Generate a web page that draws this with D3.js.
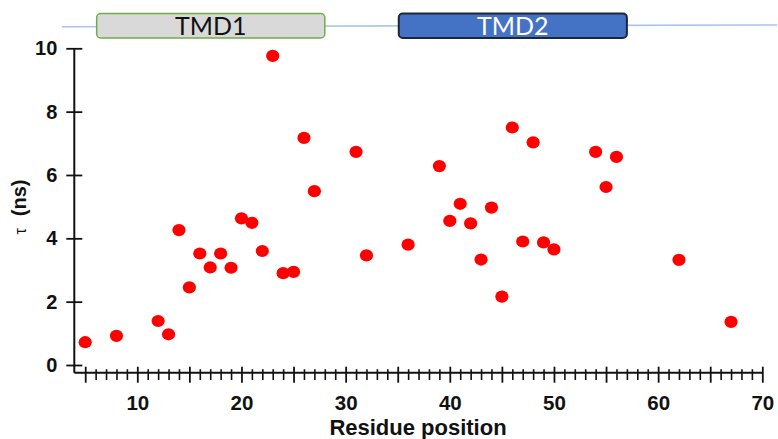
<!DOCTYPE html>
<html>
<head>
<meta charset="utf-8">
<script src="https://cdn.jsdelivr.net/npm/d3@7"></script>
<style>
  body { margin: 0; background: #fff; }
  svg text { font-family: "Liberation Sans", Arial, sans-serif; }
</style>
</head>
<body>
<div id="chart"></div>
<script>
// residue positions and relaxation times (ns)
const residues = [5, 8, 12, 13, 14, 15, 16, 17, 18, 19, 20, 21, 22, 23, 24, 25, 26, 27,
  31, 32, 36, 39, 40, 41, 42, 43, 44, 45, 46, 47, 48, 49, 50, 54, 55, 56, 62, 67];
const tau = [0.72, 0.92, 1.39, 0.97, 4.26, 2.45, 3.52, 3.08, 3.52, 3.07, 4.63, 4.49, 3.6, 9.76,
  2.9, 2.94, 7.17, 5.49, 6.73, 3.46, 3.8, 6.28, 4.55, 5.09, 4.47, 3.33, 4.97, 2.16, 7.5, 3.9,
  7.03, 3.87, 3.65, 6.73, 5.62, 6.57, 3.32, 1.36];

const yTicks = [0, 2, 4, 6, 8, 10];
const xTicks = [10, 20, 30, 40, 50, 60, 70];

// membrane domains drawn above the plot
const domainNames = ["TMD1", "TMD2"];
const domainStart = [6.1, 35.1];
const domainEnd = [28.0, 57.0];

const width = 778, height = 439;
const svg = d3.select("#chart").append("svg")
  .attr("width", width).attr("height", height);

const x = d3.scaleLinear().domain([4, 70]).range([74.8, 762.3]);
const y = d3.scaleLinear().domain([0, 10]).range([365, 48.3]);
const axisY = 372.7, axisX = 74.3;

// top strip: thin line + two boxes
svg.append("line")
  .attr("x1", 62).attr("y1", 26.7).attr("x2", 777).attr("y2", 25)
  .attr("stroke", "#a9c3ea").attr("stroke-width", 1.6);

const boxFill = ["#d9d9d9", "#4472c4"];
const boxStroke = ["#70ad47", "#1c2737"];
const textFill = ["#111111", "#ffffff"];
domainNames.forEach((name, i) => {
  svg.append("rect")
    .attr("x", x(domainStart[i])).attr("y", 13.5)
    .attr("width", x(domainEnd[i]) - x(domainStart[i])).attr("height", 24.5)
    .attr("rx", 4).attr("fill", boxFill[i])
    .attr("stroke", boxStroke[i]).attr("stroke-width", i ? 2 : 1.5);
  svg.append("text")
    .attr("x", (x(domainStart[i]) + x(domainEnd[i])) / 2).attr("y", 35)
    .attr("text-anchor", "middle")
    .style("font-family", "Lato, 'Open Sans', sans-serif")
    .attr("font-size", 25).attr("fill", textFill[i])
    .text(name);
});

// y axis
svg.append("line")
  .attr("x1", axisX).attr("x2", axisX).attr("y1", y(10)).attr("y2", axisY)
  .attr("stroke", "#111").attr("stroke-width", 2);

const gy = svg.append("g")
  .attr("transform", `translate(${axisX},0)`)
  .call(d3.axisLeft(y).tickValues(yTicks).tickSize(0).tickPadding(17));
gy.select(".domain").remove();
gy.selectAll(".tick line")
  .attr("x1", -8).attr("x2", 8).attr("stroke", "#111").attr("stroke-width", 1.8);
gy.selectAll(".tick text")
  .attr("font-size", 20).attr("font-weight", "bold").attr("fill", "#111")
  .style("font-family", "'Liberation Sans', Arial, sans-serif");

// x axis
svg.append("line")
  .attr("x1", axisX).attr("x2", x(70)).attr("y1", axisY).attr("y2", axisY)
  .attr("stroke", "#111").attr("stroke-width", 2);

const minorVals = d3.range(5, 71).filter(v => v % 5 !== 0);
const gxMinor = svg.append("g")
  .attr("transform", `translate(0,${axisY})`)
  .call(d3.axisBottom(x).tickValues(minorVals).tickSize(0).tickFormat(""));
gxMinor.select(".domain").remove();
gxMinor.selectAll(".tick line")
  .attr("y1", -3.5).attr("y2", 7.3).attr("stroke", "#111").attr("stroke-width", 1.6);

const majorVals = d3.range(5, 71, 5);
const gxMajor = svg.append("g")
  .attr("transform", `translate(0,${axisY})`)
  .call(d3.axisBottom(x).tickValues(majorVals).tickSize(0).tickPadding(23)
    .tickFormat(d => xTicks.includes(d) ? d : ""));
gxMajor.select(".domain").remove();
gxMajor.selectAll(".tick line")
  .attr("y1", -6).attr("y2", 10).attr("stroke", "#111").attr("stroke-width", 1.8);
gxMajor.selectAll(".tick text")
  .attr("font-size", 20.5).attr("font-weight", "bold").attr("fill", "#111")
  .style("font-family", "'Liberation Sans', Arial, sans-serif");

// axis titles
svg.append("text")
  .attr("x", 418).attr("y", 435)
  .attr("text-anchor", "middle")
  .attr("font-size", 22).attr("font-weight", "bold").attr("fill", "#111")
  .text("Residue position");

const yl = svg.append("text")
  .attr("transform", "translate(26,207) rotate(-90)")
  .attr("text-anchor", "middle").attr("fill", "#111");
yl.append("tspan").attr("font-size", 16).text("τ");
yl.append("tspan").attr("font-size", 20).attr("font-weight", "bold")
  .attr("dx", 12).text("(ns)");

// points
svg.append("g").selectAll("ellipse")
  .data(residues.map((r, i) => ({ r, t: tau[i] })))
  .join("ellipse")
  .attr("cx", d => x(d.r)).attr("cy", d => y(d.t))
  .attr("rx", 6.6).attr("ry", 6.1)
  .attr("fill", "#fe0000");
</script>
</body>
</html>
